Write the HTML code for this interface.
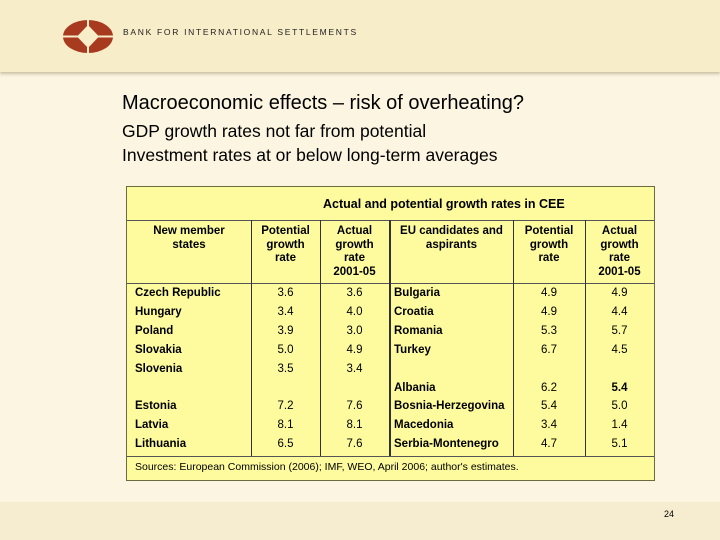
<!DOCTYPE html>
<html><head><meta charset="utf-8">
<style>
body{margin:0;width:720px;height:540px;overflow:hidden;background:#fbf5e1;font-family:"Liberation Sans",sans-serif;position:relative}
.hdr{position:absolute;left:0;top:0;width:720px;height:72px;background:#f8edc9;box-shadow:0 2px 3px #c9bfa4}
.foot{position:absolute;left:0;top:502px;width:720px;height:38px;background:#f6ecd0}
.t{position:absolute;white-space:nowrap;color:#000}
.tbl{position:absolute;left:126px;top:186px;width:527px;height:293px;background:#fdfb9e;border:1px solid #6b6b40}
.vl{position:absolute;top:33px;height:236px;width:1px;background:#333}
.hl{position:absolute;left:0;width:527px;height:1px;background:#555}
.c{position:absolute;font-size:11.5px;white-space:nowrap}
.b{font-weight:bold}
.h{position:absolute;font-size:11.5px;font-weight:bold;text-align:center;line-height:13.5px}
</style></head><body>
<div class="hdr">
<svg style="position:absolute;left:62px;top:19px" width="52" height="35">
<ellipse cx="26" cy="17.5" rx="25" ry="16.5" fill="#a83a20"/>
<line x1="26" y1="0" x2="26" y2="35" stroke="#f8edc9" stroke-width="2"/>
<line x1="0" y1="17.5" x2="52" y2="17.5" stroke="#f8edc9" stroke-width="2"/>
<polygon points="26,6 37,17.5 26,29 15,17.5" fill="#f8edc9"/>
</svg>
<div class="t" style="left:123px;top:27px;font-size:8.5px;letter-spacing:1.7px;color:#222">BANK FOR INTERNATIONAL SETTLEMENTS</div>
</div>
<div class="foot"></div>
<div class="t" style="left:122px;top:92px;font-size:20px">Macroeconomic effects – risk of overheating?</div>
<div class="t" style="left:122px;top:121px;font-size:17.5px">GDP growth rates not far from potential</div>
<div class="t" style="left:122px;top:145px;font-size:17.5px">Investment rates at or below long-term averages</div>
<div class="t" style="left:664px;top:509px;font-size:9px">24</div>

<div class="tbl">
<div class="c b" style="left:196px;top:10px;font-size:12.5px">Actual and potential growth rates in CEE</div>
<div class="hl" style="top:33px"></div>
<div class="hl" style="top:96px"></div>
<div class="hl" style="top:269px"></div>
<div class="vl" style="left:124px"></div>
<div class="vl" style="left:193px"></div>
<div class="vl" style="left:262px;width:2px"></div>
<div class="vl" style="left:386px"></div>
<div class="vl" style="left:458px"></div>
<div class="h" style="left:0;width:124px;top:38px">New member<br>states</div>
<div class="h" style="left:124px;width:69px;top:38px">Potential<br>growth<br>rate</div>
<div class="h" style="left:193px;width:69px;top:38px">Actual<br>growth<br>rate<br>2001-05</div>
<div class="h" style="left:263px;width:123px;top:38px">EU candidates and<br>aspirants</div>
<div class="h" style="left:386px;width:72px;top:38px">Potential<br>growth<br>rate</div>
<div class="h" style="left:458px;width:69px;top:38px">Actual<br>growth<br>rate<br>2001-05</div>
<div id="rows"></div>
<div class="c" style="left:8px;top:274px;font-size:10.5px">Sources: European Commission (2006); IMF, WEO, April 2006; author's estimates.</div>
</div>
<script>
const leftNames=["Czech Republic","Hungary","Poland","Slovakia","Slovenia","","Estonia","Latvia","Lithuania"];
const leftPot=["3.6","3.4","3.9","5.0","3.5","","7.2","8.1","6.5"];
const leftAct=["3.6","4.0","3.0","4.9","3.4","","7.6","8.1","7.6"];
const rightNames=["Bulgaria","Croatia","Romania","Turkey","","Albania","Bosnia-Herzegovina","Macedonia","Serbia-Montenegro"];
const rightPot=["4.9","4.9","5.3","6.7","","6.2","5.4","3.4","4.7"];
const rightAct=["4.9","4.4","5.7","4.5","","5.4","5.0","1.4","5.1"];
const rows=document.getElementById('rows');
function cell(txt,left,top,bold,center,w){
 const d=document.createElement('div');
 d.className='c'+(bold?' b':'');
 d.style.left=left+'px';d.style.top=top+'px';
 if(center){d.style.width=w+'px';d.style.textAlign='center';}
 d.textContent=txt;
 
 
 rows.appendChild(d);
}
for(let i=0;i<leftNames.length;i++){
 const y=100+i*18.9;
 cell(leftNames[i],8,y,true,false);
 cell(leftPot[i],124,y,false,true,69);
 cell(leftAct[i],193,y,false,true,69);
 cell(rightNames[i],267,y,true,false);
 cell(rightPot[i],386,y,false,true,72);
 cell(rightAct[i],458,y,i==5,true,69);
}
</script>
</body></html>
